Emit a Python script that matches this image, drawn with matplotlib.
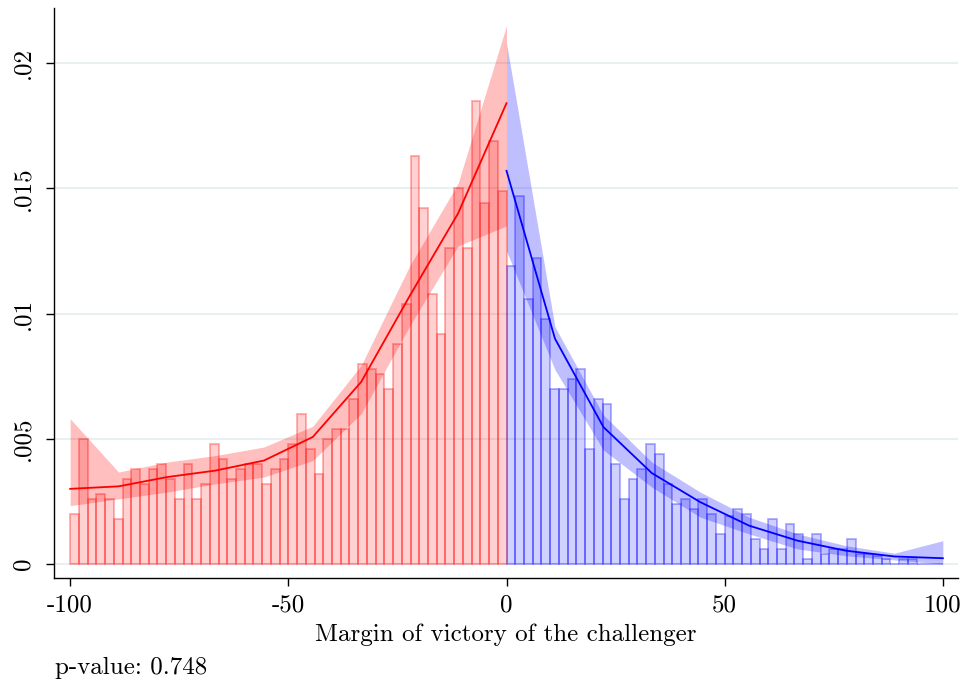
import numpy as np
import matplotlib
matplotlib.use("Agg")
import matplotlib.pyplot as plt

plt.rcParams['font.family'] = ['cmr10', 'DejaVu Serif']

# histogram bins (width 2) left and right of the cutoff
left_edges = list(range(-100, 0, 2))
right_edges = list(range(0, 100, 2))

left_heights = [
    0.0020, 0.0050, 0.0026, 0.0028, 0.0026, 0.0018, 0.0034, 0.0038, 0.0032, 0.0038,
    0.0040, 0.0034, 0.0026, 0.0040, 0.0026, 0.0032, 0.0048, 0.0042, 0.0034, 0.0038,
    0.0040, 0.0040, 0.0032, 0.0038, 0.0042, 0.0048, 0.0060, 0.0046, 0.0036, 0.0050,
    0.0054, 0.0054, 0.0066, 0.0080, 0.0078, 0.0076, 0.0070, 0.0088, 0.0104, 0.0163,
    0.0142, 0.0108, 0.0092, 0.0126, 0.0150, 0.0126, 0.0185, 0.0144, 0.0169, 0.0149,
]
right_heights = [
    0.0119, 0.0147, 0.0106, 0.0122, 0.0098, 0.0070, 0.0070, 0.0074, 0.0078, 0.0046,
    0.0066, 0.0064, 0.0040, 0.0026, 0.0034, 0.0038, 0.0048, 0.0044, 0.0032, 0.0024,
    0.0026, 0.0022, 0.0026, 0.0020, 0.0012, 0.0019, 0.0022, 0.0020, 0.0010, 0.0006,
    0.0018, 0.0006, 0.0016, 0.0012, 0.0002, 0.0012, 0.0004, 0.0006, 0.0006, 0.0010,
    0.0004, 0.0004, 0.0003, 0.0002, 0.0, 0.0002, 0.0002, 0.0, 0.0, 0.0,
]

# fitted density and confidence band (evaluated on 10 points each side)
left_x = [-100, -88.9, -77.8, -66.7, -55.6, -44.4, -33.3, -22.2, -11.1, 0]
left_fit = [0.0030, 0.0031, 0.00347, 0.00373, 0.00413, 0.00507, 0.00727, 0.0107, 0.0140, 0.0184]
left_lo = [0.00233, 0.0026, 0.00287, 0.0032, 0.00347, 0.00413, 0.0060, 0.0095, 0.0127, 0.0135]
left_hi = [0.0058, 0.00367, 0.00407, 0.00433, 0.00467, 0.0055, 0.00793, 0.0119, 0.0152, 0.0215]

right_x = [0, 11.1, 22.2, 33.3, 44.4, 55.6, 66.7, 77.8, 88.9, 100]
right_fit = [0.0157, 0.0090, 0.00547, 0.00363, 0.00247, 0.00153, 0.00093, 0.00053, 0.0003, 0.00023]
right_lo = [0.0125, 0.00776, 0.00455, 0.00307, 0.00187, 0.0012, 0.0006, 0.00033, 0.00016, 0.0]
right_hi = [0.0208, 0.00947, 0.00595, 0.00407, 0.00287, 0.00187, 0.0012, 0.00073, 0.00043, 0.00093]

p_value = 0.748

fig = plt.figure(figsize=(9.68, 6.85), dpi=100)
ax = fig.add_axes([0.0558, 0.1562, 0.934, 0.8321])

for y in [0, 0.005, 0.01, 0.015, 0.02]:
    ax.axhline(y, color='#e8f0f1', lw=1.5, zorder=0)

ax.bar(left_edges, left_heights, width=2, align='edge',
       facecolor=(1, 0, 0, 0.18), edgecolor=(1, 0, 0, 0.32), lw=1.3, zorder=1)
ax.bar(right_edges, right_heights, width=2, align='edge',
       facecolor=(0, 0, 1, 0.18), edgecolor=(0, 0, 1, 0.32), lw=1.3, zorder=1)

ax.fill_between(left_x, left_lo, left_hi, color=(1, 0, 0, 0.25), lw=0, zorder=2)
ax.fill_between(right_x, right_lo, right_hi, color=(0, 0, 1, 0.25), lw=0, zorder=2)
ax.plot(left_x, left_fit, color='red', lw=1.3, zorder=3)
ax.plot(right_x, right_fit, color='blue', lw=1.3, zorder=3)

ax.set_xlim(-103.7, 103.5)
ax.set_ylim(-0.00056, 0.0222)
ax.spines['top'].set_visible(False)
ax.spines['right'].set_visible(False)
ax.spines['left'].set_linewidth(1.0)
ax.spines['bottom'].set_linewidth(1.0)

ax.set_xticks([-100, -50, 0, 50, 100])
ax.set_xticklabels(['-100', '-50', '0', '50', '100'], fontsize=18)
ax.set_yticks([0, 0.005, 0.01, 0.015, 0.02])
ax.set_yticklabels(['0', '.005', '.01', '.015', '.02'], fontsize=18,
                   rotation=90, va='center')
ax.tick_params(axis='x', direction='out', length=6, width=1, pad=6)
ax.tick_params(axis='y', direction='out', length=6, width=1, pad=8)
ax.set_xlabel('Margin of victory of the challenger', fontsize=18, labelpad=5)

fig.text(0.057, 0.0248, f'p-value: {p_value}', fontsize=18, va='center')

fig.savefig('out.png', dpi=100)
